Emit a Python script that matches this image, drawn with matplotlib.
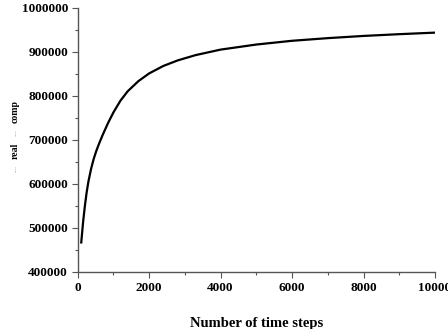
import matplotlib
matplotlib.use("Agg")
import matplotlib.pyplot as plt
from matplotlib.ticker import MultipleLocator, ScalarFormatter

# values
steps = [100, 150, 200, 250, 300, 375, 450, 525, 600, 700, 850, 1000, 1200,
         1400, 1700, 2000, 2400, 2800, 3300, 4000, 5000, 6000, 7000, 8000,
         9000, 10000]
ratio = [467000, 512000, 549000, 580000, 605000, 634000, 657000, 675500,
         691500, 711000, 738000, 762000, 789000, 810000, 833000, 850500,
         867500, 880000, 892000, 904500, 916000, 924500, 930500, 935500,
         939500, 943000]

plt.rcParams['font.family'] = ['Liberation Serif', 'DejaVu Serif']
plt.rcParams['font.weight'] = 'bold'

fig = plt.figure(figsize=(4.48, 3.29), dpi=100)
ax = fig.add_axes([0.1734, 0.1733, 0.7976, 0.8039])

ax.plot(steps, ratio, color='black', lw=1.6)

ax.set_xlim(0, 10000)
ax.set_ylim(400000, 1000000)
ax.xaxis.set_major_locator(MultipleLocator(2000))
ax.xaxis.set_minor_locator(MultipleLocator(1000))
ax.yaxis.set_major_locator(MultipleLocator(100000))
ax.yaxis.set_minor_locator(MultipleLocator(50000))
fmt = ScalarFormatter(useOffset=False)
fmt.set_scientific(False)
ax.yaxis.set_major_formatter(fmt)

for s in ['top', 'right']:
    ax.spines[s].set_visible(False)
for s in ['left', 'bottom']:
    ax.spines[s].set_color('#555555')
    ax.spines[s].set_linewidth(1.0)

ax.tick_params(which='major', direction='out', length=4, width=0.8,
               color='#555555', labelsize=9.5, pad=3)
ax.tick_params(which='minor', direction='out', length=2.5, width=0.8,
               color='#555555')
for lab in ax.get_xticklabels() + ax.get_yticklabels():
    lab.set_fontweight('bold')

ax.set_xlabel('Number of time steps', fontsize=10.5, fontweight='bold',
              labelpad=17)

# partly rendered y label
fig.text(0.034, 0.66, 'comp', rotation=90, fontsize=7, fontweight='bold',
         ha='center', va='center')
fig.text(0.034, 0.541, 'real', rotation=90, fontsize=7, fontweight='bold',
         ha='center', va='center')
fig.text(0.034, 0.598, '....', rotation=90, fontsize=5, color='#bbbbbb',
         ha='center', va='center')
fig.text(0.034, 0.487, '....', rotation=90, fontsize=5, color='#bbbbbb',
         ha='center', va='center')

fig.savefig('out.png', dpi=100)
